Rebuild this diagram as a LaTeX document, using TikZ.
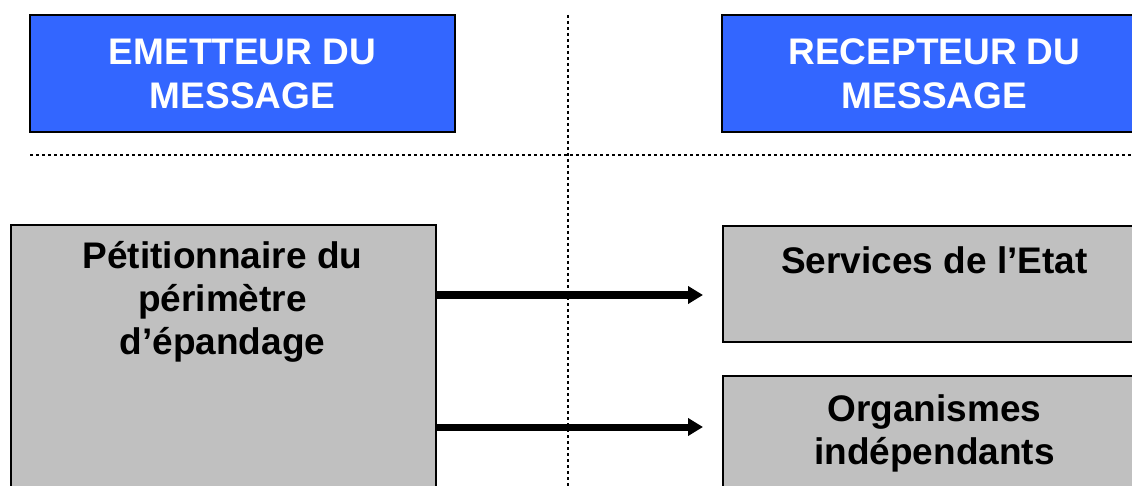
\documentclass[tikz,border=0pt]{standalone}
\usepackage{fontspec}
\setmainfont{Liberation Sans}
\usetikzlibrary{arrows.meta}
\definecolor{bleu}{HTML}{3366FF}
\definecolor{gris}{HTML}{C0C0C0}
\tikzset{
    entete/.style={draw=black,line width=2pt,fill=bleu,text=white,
        minimum width=425pt,minimum height=117pt,align=center,
        font=\fontsize{37}{44}\selectfont\bfseries},
    boite/.style={draw=black,line width=2pt,fill=gris,anchor=north west,
        minimum width=425pt,inner sep=0pt},
    texte/.style={align=center,inner sep=0pt,
        font=\fontsize{37}{43}\selectfont\bfseries},
    fleche/.style={-{Triangle[length=15pt,width=17pt]},line width=7pt},
    pointille/.style={line width=2pt,dash pattern=on 3pt off 3pt}
}
\begin{document}
\begin{tikzpicture}[x=1pt,y=-1pt]
    \useasboundingbox (0,0) rectangle (1132,486);
    \clip (0,0) rectangle (1132,486);
    %===========================================
    \draw[pointille] (568,15)--(568,486);
    \draw[pointille] (30,155)--(1132,155);
    %===========================================
    \node[entete] (emet) at (242.5,73.5) {EMETTEUR DU\\MESSAGE};
    \node[entete] (recep) at (934.5,73.5) {RECEPTEUR DU\\MESSAGE};
    %===========================================
    \node[boite,minimum height=300pt] (petit) at (10,224) {};
    \node[texte] (petit-t) at (222.5,302) {P\'etitionnaire du\\p\'erim\`etre\\d’\'epandage};
    \node[boite,minimum height=116pt] (etat) at (722,225) {};
    \node[texte] (etat-t) at (934.5,260) {Services de l’Etat};
    \node[boite,minimum height=150pt] (orga) at (722,375) {};
    \node[texte] (orga-t) at (934.5,433) {Organismes\\ind\'ependants};
    %===========================================
    \coordinate (a1) at (0,295);
    \coordinate (a2) at (0,427);
    \draw[fleche] (petit.east |- a1) -- ([xshift=-19pt]etat.west |- a1);
    \draw[fleche] (petit.east |- a2) -- ([xshift=-19pt]orga.west |- a2);
\end{tikzpicture}
\end{document}
